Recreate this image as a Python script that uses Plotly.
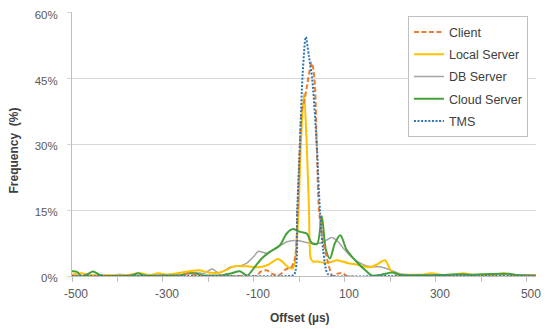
import plotly.graph_objects as go

# ---- data (offset in µs, frequency in %) ----
client_x = [-500, -260, -245, -230, -215, -120, -95, -85, -72, -60, -45, -30, -18, -10, -4, 1, 5, 11, 16, 27, 33, 38, 43, 52, 63, 73, 85, 95, 105, 520]
client_y = [0, 0, 0.5, 0.3, 0, 0, 0, 1.0, 1.3, 0.5, 0.2, 1.5, 2.0, 4.0, 15, 30, 37.7, 40, 43, 48.7, 45, 30, 15, 8, 3, 0, 0.6, 0.6, 0, 0]

local_x = [-500, -480, -460, -420, -380, -350, -330, -310, -290, -265, -235, -220, -200, -175, -160, -145, -115, -90, -70, -47, -35, -25, -14, -6, -2, 3, 10, 16, 21, 25, 30, 40, 55, 70, 82, 95, 107, 125, 140, 155, 170, 188, 200, 212, 240, 270, 290, 310, 340, 360, 380, 430, 448, 465, 520]
local_y = [0.3, 0.6, 0.2, 0.2, 0.2, 0.6, 0.2, 0.6, 0.3, 0.7, 1.2, 1.3, 0.8, 0.8, 1.4, 2.2, 2.2, 2.0, 2.5, 3.9, 3.0, 2.0, 1.8, 8, 15, 30, 41.7, 30, 15, 4.0, 3.3, 3.3, 3.0, 3.2, 3.6, 3.3, 2.9, 2.6, 2.2, 2.0, 2.6, 3.6, 1.4, 0.4, 0.3, 0.3, 0.6, 0.3, 0.3, 0.6, 0.3, 0.3, 0.6, 0.3, 0.1]

db_x = [-500, -410, -395, -380, -300, -260, -230, -210, -192, -178, -165, -153, -131, -115, -100, -91, -80, -72, -50, -27, -5, 8, 23, 38, 52, 71, 85, 96, 118, 133, 148, 165, 177, 199, 221, 250, 300, 400, 440, 520]
db_y = [0.1, 0.1, 0.4, 0.1, 0.2, 0.3, 0.8, 0.6, 1.6, 0.7, 1.2, 2.0, 2.3, 3.0, 4.5, 5.6, 5.4, 5.2, 6.4, 7.8, 8.1, 7.8, 7.5, 7.4, 7.7, 8.8, 7.8, 6.4, 4.0, 3.0, 2.3, 2.1, 2.1, 1.4, 0.5, 0.2, 0.2, 0.3, 0.4, 0.1]

cloud_x = [-500, -490, -479, -466, -454, -440, -430, -400, -370, -355, -340, -300, -260, -245, -230, -215, -200, -170, -150, -131, -115, -98, -83, -65, -43, -28, -14, -3, 5, 16, 27, 39, 49, 58, 67, 78, 90, 104, 126, 148, 159, 180, 205, 220, 300, 350, 380, 400, 460, 480, 520]
cloud_y = [1.1, 1.0, 0, 0.4, 1.0, 0.3, 0, 0, 0.1, 0.6, 0.1, 0.1, 0.2, 0.6, 0.6, 0.2, 0.1, 0.2, 0.6, 1.1, 0.1, 2.1, 4.0, 5.5, 7.0, 9.7, 10.7, 10.2, 10.0, 9.7, 7.5, 7.3, 13.7, 6.0, 4.0, 7.5, 9.3, 5.9, 3.2, 1.0, 0.1, 0.3, 0.8, 0.3, 0.2, 0.4, 0.3, 0.4, 0.5, 0.2, 0.1]

tms_x = [-500, -200, -30, -12, -5, 1, 7, 14, 21, 28, 38, 45, 52, 62, 75, 200, 520]
tms_y = [0, 0, 0, 0.3, 15, 30, 46, 54.5, 50, 45, 30, 15, 6, 0.5, 0, 0, 0]

x_ticks = [-500, -400, -300, -200, -100, 0, 100, 200, 300, 400, 500]
x_labels = ["-500", "", "-300", "", "-100", "", "100", "", "300", "", "500"]
y_ticks = [0, 15, 30, 45, 60]
y_labels = ["0%", "15%", "30%", "45%", "60%"]

FONT = "Liberation Sans, Arial, sans-serif"

fig = go.Figure()

def add(x, y, name, color, width, dash, rank):
    fig.add_trace(go.Scatter(
        x=x, y=y, name=name, mode="lines",
        line=dict(color=color, width=width, dash=dash, shape="spline", smoothing=0.8),
        legendrank=rank, hoverinfo="skip",
    ))

add(db_x, db_y, "DB Server", "#A5A5A5", 1.5, "solid", 3)
add(local_x, local_y, "Local Server", "#FFC000", 2, "solid", 2)
add(cloud_x, cloud_y, "Cloud Server", "#46A03A", 2, "solid", 4)
add(client_x, client_y, "Client", "#ED7D31", 2, "5px,2.5px", 1)
add(tms_x, tms_y, "TMS", "#2E75B6", 2, "2px,1.6px", 5)

# page body has an 8px default margin, so the figure is 8px smaller on each side
fig.update_layout(
    width=542, height=321,
    margin=dict(l=64, r=14, t=4, b=53, autoexpand=False),
    paper_bgcolor="white", plot_bgcolor="white",
    font=dict(family=FONT, size=12, color="#595959"),
    showlegend=True,
    legend=dict(
        x=0.724, y=0.983, xanchor="left", yanchor="top",
        bgcolor="white", bordercolor="#BFBFBF", borderwidth=1,
        font=dict(family=FONT, size=12.5, color="#404040"),
        tracegroupgap=3,
    ),
    xaxis=dict(
        range=[-500, 520], tickmode="array", tickvals=x_ticks, ticktext=x_labels,
        showgrid=False, zeroline=False, showline=True, linecolor="#BFBFBF", linewidth=1,
        ticks="outside", ticklen=5, tickcolor="#BFBFBF", automargin=False,
        ticklabelshift=4, ticklabelstandoff=2,
        tickfont=dict(family=FONT, size=12, color="#595959"),
    ),
    yaxis=dict(
        range=[0, 60.2], tickmode="array", tickvals=y_ticks, ticktext=y_labels,
        showgrid=True, gridcolor="#D9D9D9", gridwidth=1, zeroline=False,
        showline=True, linecolor="#BFBFBF", linewidth=1, automargin=False,
        ticks="outside", ticklen=4, tickcolor="#D9D9D9",
        ticklabelstandoff=7, ticklabeloverflow="allow", ticklabelshift=2,
        tickfont=dict(family=FONT, size=11.5, color="#595959"),
    ),
    annotations=[
        dict(text="<b>Offset (µs)</b>", xref="paper", yref="paper", x=0.491, y=-0.159,
             xanchor="center", yanchor="middle", showarrow=False,
             font=dict(family=FONT, size=12, color="#404040")),
        dict(text="<b>Frequency\u00a0\u00a0(%)</b>", xref="paper", yref="paper", x=-0.124, y=0.477,
             xanchor="center", yanchor="middle", textangle=-90, showarrow=False,
             font=dict(family=FONT, size=12, color="#404040")),
    ],
)

# each trace in its own legend group so tracegroupgap spaces the entries
for i, tr in enumerate(fig.data):
    tr.legendgroup = "g%d" % i

fig.write_html("out.html")
